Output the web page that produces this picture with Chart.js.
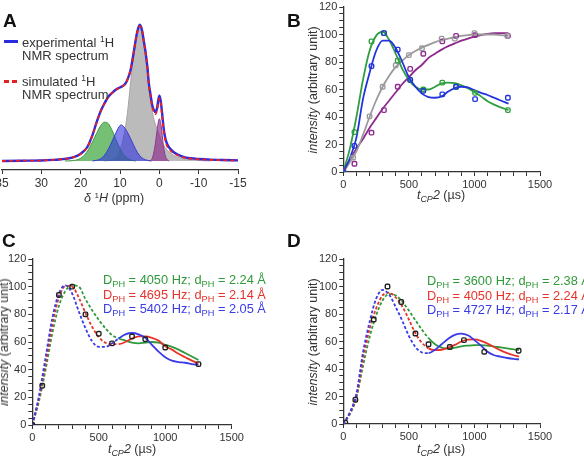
<!DOCTYPE html>
<html>
<head>
<meta charset="utf-8">
<script src="https://cdn.jsdelivr.net/npm/chart.js@4.4.1/dist/chart.umd.min.js"></script>
<style>
  body { margin: 0; background: #fff; width: 584px; height: 460px; overflow: hidden; position: relative;
         font-family: "Liberation Sans", Arial, sans-serif; color: #333; }
  canvas { position: absolute; }
  .lab { position: absolute; font-weight: bold; font-size: 19px; color: #111; line-height: 1; }
  .t { position: absolute; white-space: nowrap; font-size: 12.5px; line-height: 14px; color: #333; }
  .cx { transform: translateX(-50%); }
  .rot { transform: translate(-50%, -50%) rotate(-90deg); }
  .leg { position: absolute; white-space: nowrap; font-size: 12.8px; line-height: 14.5px; }
  .legA { position: absolute; white-space: nowrap; font-size: 13px; line-height: 12.7px; color: #333; }
  sub { font-size: 72%; vertical-align: -0.3em; line-height: 0; }
  sup { font-size: 65%; vertical-align: 0.55em; line-height: 0; }
</style>
</head>
<body>
<canvas id="grafA" width="290" height="215" style="left:0;top:0"></canvas>
<canvas id="grafB" width="294" height="215" style="left:290px;top:0"></canvas>
<canvas id="grafC" width="290" height="235" style="left:0;top:225px"></canvas>
<canvas id="grafD" width="294" height="235" style="left:290px;top:225px"></canvas>

<div class="lab" style="left:3px;top:11px">A</div>
<div class="lab" style="left:287px;top:11px">B</div>
<div class="lab" style="left:2px;top:231px">C</div>
<div class="lab" style="left:287px;top:231px">D</div>

<!-- legenda A -->
<div style="position:absolute;left:4px;top:40px;width:14px;height:3px;background:#2a2ae0"></div>
<div style="position:absolute;left:4px;top:80px;width:5px;height:2.5px;background:#e62020"></div>
<div style="position:absolute;left:12px;top:80px;width:5px;height:2.5px;background:#e62020"></div>
<div class="legA" style="left:22px;top:37px">experimental <sup>1</sup>H<br>NMR spectrum</div>
<div class="legA" style="left:22px;top:76px">simulated <sup>1</sup>H<br>NMR spectrum</div>

<!-- títulos dos eixos -->
<div class="t cx" style="left:114px;top:191px"><i>δ</i> <sup>1</sup><i>H</i> (ppm)</div>
<div class="t cx" style="left:441px;top:188px"><i>t<sub>CP</sub>2</i> (µs)</div>
<div class="t rot" style="left:313px;top:90px"><i>intensity</i> (arbitrary unit)</div>
<div class="t cx" style="left:132px;top:442px"><i>t<sub>CP</sub>2</i> (µs)</div>
<div class="t rot" style="left:4px;top:342px"><i>intensity</i> (arbitrary unit)</div>
<div class="t cx" style="left:441px;top:442px"><i>t<sub>CP</sub>2</i> (µs)</div>
<div class="t rot" style="left:313px;top:342px"><i>intensity</i> (arbitrary unit)</div>

<!-- legendas C e D -->
<div class="leg" style="left:103px;top:273px">
  <div style="color:#2f9a3a">D<sub>PH</sub> = 4050 Hz; d<sub>PH</sub> = 2.24 Å</div>
  <div style="color:#e8332a">D<sub>PH</sub> = 4695 Hz; d<sub>PH</sub> = 2.14 Å</div>
  <div style="color:#3a3ae8">D<sub>PH</sub> = 5402 Hz; d<sub>PH</sub> = 2.05 Å</div>
</div>
<div class="leg" style="left:427px;top:274px">
  <div style="color:#2f9a3a">D<sub>PH</sub> = 3600 Hz; d<sub>PH</sub> = 2.38 Å</div>
  <div style="color:#e8332a">D<sub>PH</sub> = 4050 Hz; d<sub>PH</sub> = 2.24 Å</div>
  <div style="color:#3a3ae8">D<sub>PH</sub> = 4727 Hz; d<sub>PH</sub> = 2.17 Å</div>
</div>

<script>
// ---------- A: espectro 1H ----------
const ppmTicks = [40, 30, 20, 10, 0, -10, -20];
const ppmTickLabels = ["35", "30", "20", "10", "0", "-10", "-15"];

const ppmTotal = [40, 35, 30, 27, 25, 23, 21.6, 20, 19, 18.3, 17, 16, 15, 14, 13, 12, 11, 10, 9, 8.6, 8, 7.3, 6.5, 6, 5.6, 5, 4.4, 4, 3.5, 3, 2.7, 2.2, 1.8, 1.4, 1, 0.6, 0.3, 0, -0.3, -0.6, -1.1, -1.5, -1.9, -2.6, -3.6, -5, -6.1, -8, -10, -13, -16, -20];
const expTotal = [0, 0.2, 0.4, 0.8, 1.3, 2, 3, 5.4, 7.8, 10.3, 19, 28, 36, 42, 47, 50, 52.5, 54, 55.7, 57, 60.5, 67, 80, 89, 95, 100, 96, 89, 80, 68, 58, 48, 41, 37.5, 36, 38.5, 44, 48, 45, 38, 24, 17, 13, 9.5, 6.6, 4.3, 3, 2, 1.5, 1, 0.7, 0.5];
const simTotal = [0, 0.2, 0.4, 0.8, 1.3, 2, 3, 5.2, 7.6, 10.2, 19, 28, 36, 42, 47, 50, 52.5, 54, 55.5, 57, 60.5, 67, 80, 89, 95, 99, 96, 89, 80, 68, 57, 47, 40, 36, 34.5, 37, 42, 46, 43, 36, 22, 15.5, 11.5, 8.5, 5.8, 3.8, 2.7, 1.8, 1.3, 0.9, 0.6, 0.4];

const ppmGreen = [24, 22, 20, 19, 18, 17, 16, 15, 14, 13, 12, 11, 10, 9, 8, 7, 6];
const compGreen = [0, 0.3, 2, 4.5, 8.5, 14, 20, 25.5, 28.5, 27.5, 22.5, 15.5, 9, 4.5, 1.8, 0.5, 0];
const ppmBlue = [17, 16, 15, 14, 13, 12, 11, 10, 9.7, 9, 8, 7, 6, 5, 4, 3, 2];
const compBlue = [0, 0.5, 1.5, 4, 8.5, 14.5, 21, 26, 26.5, 25, 20.5, 14.5, 8.5, 4, 1.5, 0.5, 0];
const ppmGray = [14, 13, 12, 11, 10, 9, 8.5, 8, 7.5, 7, 6.5, 6, 5.5, 5.1, 4.5, 4, 3.5, 3, 2.5, 2, 1.5, 1, 0.5, 0, -0.5, -1, -2, -3, -4, -5, -7, -10, -13];
const compGray = [0, 0.3, 0.8, 2.5, 8, 19, 27, 38, 52, 66, 79, 88, 96, 98, 95, 86, 76, 64, 51, 40, 32, 27, 23, 19, 15, 12, 8, 5.5, 3.5, 2.5, 1.2, 0.4, 0];
const ppmPurple = [2.5, 2, 1.5, 1, 0.5, 0, -0.5, -1, -1.5, -2, -2.5];
const compPurple = [0, 1, 5, 13, 24, 31, 25, 12, 4, 1, 0];

// ---------- B: curvas CP ----------
const tB = [0, 85, 215, 310, 415, 510, 610, 755, 860, 1005, 1255];
const tBgray = [0, 75, 200, 300, 400, 500, 600, 750, 850, 1000, 1250];
const ptsBlue = [0, 19, 77, 101, 89, 67, 59, 56.5, 62, 53, 54];
const ptsGreen = [0, 29, 95, 101, 81, 67, 60, 65, 62, 57.5, 45];
const ptsGray = [0, 10.5, 40.5, 62, 77.6, 85, 90, 97, 97, 101, 99];
const ptsPurple = [1, 6, 28.6, 45, 62, 75, 86, 95, 99, 99.5, 99];

const fitXB = [0, 50, 100, 150, 200, 250, 300, 350, 400, 450, 500, 550, 600, 650, 700, 750, 800, 850, 900, 950, 1000, 1050, 1100, 1150, 1200, 1260];
const fitGreenB = [0, 17, 40, 67, 88, 99, 102, 96, 86, 75, 67, 62, 60, 60, 62, 64.5, 65, 64.7, 63, 61, 58, 55, 51.5, 49, 47, 45];
const fitBlueB = [0, 10, 25, 53, 72, 88, 95.5, 95.5, 90, 80, 69, 62, 57, 54.5, 54, 55, 58.5, 61, 62, 61.5, 59.5, 57.5, 56, 54, 52, 49.7];
const fitGrayB = [0, 7, 15, 27, 40, 52, 62, 70, 76.5, 81, 85, 88, 90.5, 92.5, 94.5, 96, 97, 98, 99, 99.5, 100, 100, 100, 100, 99.5, 99];
const fitPurpleB = [0, 9, 17, 24, 32, 39, 46, 52, 58, 64, 69, 74, 78, 83, 86, 89, 91.5, 93.5, 95.5, 97, 98.5, 99.5, 100.5, 101, 101, 101];

// ---------- C ----------
const tC = [0, 75, 200, 300, 400, 500, 600, 750, 850, 1000, 1250];
const expC = [0, 28.4, 94, 100, 80, 66, 59, 64, 62, 56, 44];
const fitXC = [0, 50, 100, 150, 200, 250, 300, 350, 400, 450, 500, 550, 600, 650, 700, 750, 800, 850, 900, 950, 1000, 1050, 1100, 1150, 1200, 1250];
const fitGreenC = [0, 17, 40, 66, 86, 97, 101, 100, 91, 83, 76, 70, 65, 62.5, 61, 59.5, 59, 59.5, 60, 59.5, 58, 56.5, 54.5, 52, 49.5, 47];
const fitRedC = [0, 19, 44, 72, 92, 100.5, 100, 92, 81, 71, 63.5, 59.5, 58.5, 58.5, 60, 62.5, 64, 64, 63, 61, 57, 54.5, 51.5, 49, 46.5, 44.5];
const fitBlueC = [0, 21, 49, 77, 95, 101, 95, 82, 70, 60.5, 56.5, 56.5, 59, 62.5, 65.5, 66.5, 65.5, 63, 58, 53, 49, 46.5, 45.5, 45, 44, 43.4];

// ---------- D ----------
const tD = [15, 92, 232, 337, 442, 550, 650, 812, 920, 1075, 1337];
const expD = [1, 17.6, 76, 100, 88.7, 65.8, 58, 56, 61, 52.5, 53.3];
const fitXD = [0, 50, 100, 150, 200, 250, 300, 350, 400, 450, 500, 550, 600, 650, 700, 750, 800, 850, 900, 950, 1000, 1050, 1100, 1150, 1200, 1250, 1300, 1340];
const fitGreenD = [0, 7, 19, 42, 63, 79, 90, 94.5, 93.5, 89, 82.5, 75.5, 68.5, 62.5, 58, 55.5, 54.8, 55.5, 56.5, 57, 57.3, 57.3, 57, 56.3, 55.7, 55, 54.2, 53.7];
const fitRedD = [0, 8, 20, 47, 69, 84, 93.5, 95.5, 92, 85.5, 76, 66, 59, 55, 53.7, 54, 55.5, 57.5, 60, 61.3, 61.5, 60.5, 58.5, 56, 53.5, 51.5, 50, 49];
const fitBlueD = [0, 8.5, 22, 52, 74, 91, 97.5, 94, 85, 75, 64, 56, 52, 51.5, 54, 58, 62, 64.8, 65.8, 64.5, 61, 57, 52.5, 50, 49, 48, 47.3, 47];

const pares = (xs, ys) => xs.map((x, i) => ({ x: x, y: ys[i] }));

const corEixo = "#333";
const fonteTick = { family: "'Liberation Sans', Arial, sans-serif", size: 11 };

function fixaX(h) {
  return (s) => { s.height = h; s.paddingLeft = 0; s.paddingRight = 0; };
}
function fixaY(w) {
  return (s) => { s.width = w; s.paddingTop = 0; s.paddingBottom = 0; };
}

function opcoesCP(padRight, padTop, yWidth, xHeight) {
  return {
    responsive: false,
    animation: false,
    devicePixelRatio: 1,
    layout: { padding: { left: 0, right: padRight, top: padTop, bottom: 0 } },
    plugins: { legend: { display: false }, tooltip: { enabled: false } },
    scales: {
      x: {
        type: "linear", min: 0, max: 1500,
        afterFit: fixaX(xHeight),
        grid: { drawOnChartArea: false, tickLength: 4, color: corEixo },
        border: { color: corEixo, width: 1.3 },
        ticks: {
          stepSize: 100, autoSkip: false, maxRotation: 0, padding: 2,
          color: corEixo, font: fonteTick,
          callback: (v) => (v % 500 === 0 ? v : ""),
        },
      },
      y: {
        min: 0, max: 120,
        afterFit: fixaY(yWidth),
        grid: { drawOnChartArea: false, tickLength: 4, color: corEixo },
        border: { color: corEixo, width: 1.3 },
        ticks: {
          stepSize: 5, autoSkip: false, padding: 2,
          color: corEixo, font: fonteTick,
          callback: (v) => (v % 20 === 0 ? v : ""),
        },
      },
    },
  };
}

function marcas(xs, ys, cor) {
  return {
    data: pares(xs, ys), showLine: false,
    pointStyle: "rectRounded", pointRadius: 2.6, borderWidth: 1.4,
    borderColor: cor, backgroundColor: "rgba(0,0,0,0)",
  };
}
function curva(xs, ys, cor, tracejada) {
  const d = {
    data: pares(xs, ys), pointRadius: 0, borderWidth: 1.8,
    borderColor: cor, cubicInterpolationMode: "monotone", fill: false,
  };
  if (tracejada) {
    d.borderDash = [];
    d.segment = { borderDash: (ctx) => (ctx.p0.parsed.x < 650 ? [3, 2] : undefined) };
  }
  return d;
}

// ---------- A ----------
function pico(xs, ys, fundo, borda) {
  return {
    data: pares(xs, ys), pointRadius: 0, borderWidth: 1,
    borderColor: borda, backgroundColor: fundo,
    fill: "origin", cubicInterpolationMode: "monotone",
  };
}

new Chart(document.getElementById("grafA"), {
  type: "line",
  data: {
    datasets: [
      {
        data: pares(ppmTotal, simTotal), pointRadius: 0, borderWidth: 1.8,
        borderColor: "#e62020", borderDash: [4, 3], cubicInterpolationMode: "monotone", fill: false,
      },
      {
        data: pares(ppmTotal, expTotal), pointRadius: 0, borderWidth: 2.4,
        borderColor: "#2a2ae0", cubicInterpolationMode: "monotone", fill: false,
      },
      pico(ppmPurple, compPurple, "rgba(140,40,140,0.65)", "#8a3a8a"),
      pico(ppmBlue, compBlue, "rgba(50,50,225,0.6)", "#3a3ad0"),
      pico(ppmGreen, compGreen, "rgba(60,165,60,0.7)", "#3c9a3c"),
      pico(ppmGray, compGray, "rgba(170,170,170,0.8)", "#a4a4a4"),
    ],
  },
  options: {
    responsive: false,
    animation: false,
    devicePixelRatio: 1,
    layout: { padding: { left: 2, right: 52, top: 18, bottom: 0 } },
    plugins: { legend: { display: false }, tooltip: { enabled: false } },
    scales: {
      x: {
        type: "linear", reverse: true, min: -20, max: 40,
        afterFit: fixaX(45),
        grid: { drawOnChartArea: false, tickLength: 4, color: corEixo },
        border: { color: corEixo, width: 1.3 },
        ticks: {
          stepSize: 10, autoSkip: false, maxRotation: 0, padding: 2,
          color: corEixo, font: { family: "'Liberation Sans', Arial, sans-serif", size: 12 },
          callback: (v) => ppmTickLabels[ppmTicks.indexOf(v)],
        },
      },
      y: { display: false, min: -6.6, max: 105 },
    },
  },
});

// ---------- B ----------
new Chart(document.getElementById("grafB"), {
  type: "line",
  data: {
    datasets: [
      marcas(tB, ptsBlue, "#2233dd"),
      marcas(tB, ptsGreen, "#2e9e3e"),
      marcas(tBgray, ptsGray, "#9a9a9a"),
      marcas(tB, ptsPurple, "#8e2a8e"),
      curva(fitXB, fitBlueB, "#2233dd", false),
      curva(fitXB, fitGreenB, "#2e9e3e", false),
      curva(fitXB, fitGrayB, "#9a9a9a", false),
      curva(fitXB, fitPurpleB, "#8e2a8e", false),
    ],
  },
  options: opcoesCP(44, 7, 53.3, 43),
});

// ---------- C ----------
new Chart(document.getElementById("grafC"), {
  type: "line",
  data: {
    datasets: [
      marcas(tC, expC, "#222"),
      curva(fitXC, fitBlueC, "#3a3ae8", true),
      curva(fitXC, fitRedC, "#e8332a", true),
      curva(fitXC, fitGreenC, "#2f9a3a", true),
    ],
  },
  options: opcoesCP(58.3, 34, 32.3, 35),
});

// ---------- D ----------
new Chart(document.getElementById("grafD"), {
  type: "line",
  data: {
    datasets: [
      marcas(tD, expD, "#222"),
      curva(fitXD, fitBlueD, "#3a3ae8", true),
      curva(fitXD, fitRedD, "#e8332a", true),
      curva(fitXD, fitGreenD, "#2f9a3a", true),
    ],
  },
  options: opcoesCP(44, 34, 53.3, 36),
});
</script>
</body>
</html>
